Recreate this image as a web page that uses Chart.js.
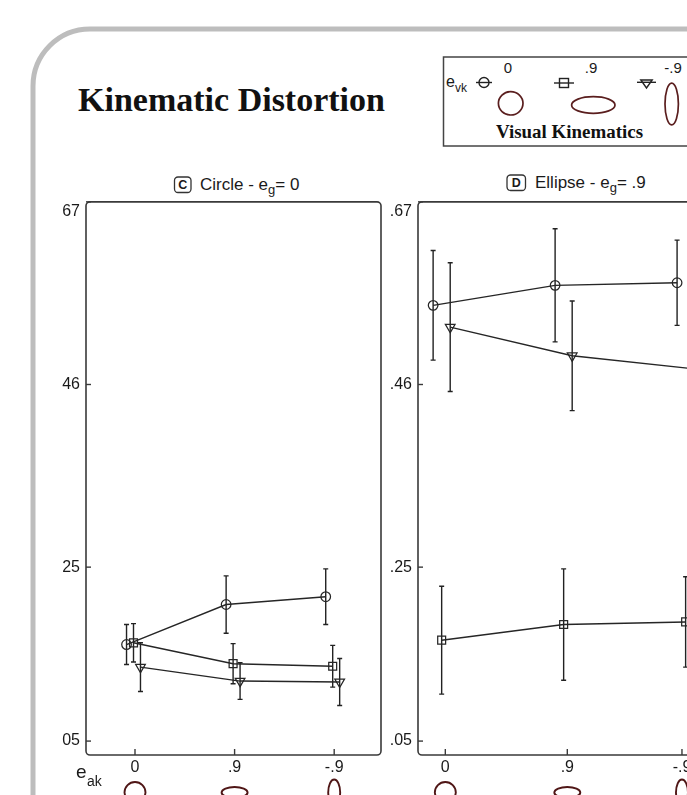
<!DOCTYPE html>
<html>
<head>
<meta charset="utf-8">
<title>Kinematic Distortion</title>
<script src="https://cdn.jsdelivr.net/npm/chart.js@4.4.1/dist/chart.umd.min.js"></script>
<style>
  html, body { margin: 0; padding: 0; background: #fff; }
  #stage { position: relative; width: 687px; height: 795px; overflow: hidden; }
  #deco { position: absolute; left: 0; top: 0; }
  canvas { position: absolute; }
</style>
</head>
<body>
<div id="stage">
  <svg id="deco" width="687" height="795" xmlns="http://www.w3.org/2000/svg">
    <!-- slide frame -->
    <rect x="33" y="29" width="800" height="900" rx="57" ry="57" fill="none" stroke="#bdbdbd" stroke-width="5"/>
    <!-- heading -->
    <text x="78" y="111" font-family="Liberation Serif, serif" font-weight="bold" font-size="33" fill="#111"
          textLength="307" lengthAdjust="spacingAndGlyphs">Kinematic Distortion</text>

    <!-- key for the visual kinematics -->
    <rect x="443.5" y="57" width="400" height="89" fill="none" stroke="#444" stroke-width="1.5"/>
    <text x="446" y="87" font-family="Liberation Sans, Arial, sans-serif" font-size="16" fill="#1a1a1a">e<tspan font-size="12" dy="5">vk</tspan></text>
    <g font-family="Liberation Sans, Arial, sans-serif" font-size="15" fill="#1a1a1a" text-anchor="middle">
      <text x="508" y="73">0</text>
      <text x="591" y="73">.9</text>
      <text x="673" y="73">-.9</text>
    </g>
    <g stroke="#222" stroke-width="1.4" fill="none">
      <line x1="476" y1="82.5" x2="492" y2="82.5"/>
      <circle cx="484" cy="82.5" r="5"/>
      <line x1="554" y1="83" x2="574" y2="83"/>
      <rect x="559.5" y="78.5" width="9" height="9"/>
      <line x1="637" y1="82.3" x2="656" y2="82.3"/>
      <path d="M640.8 80 L652.2 80 L646.5 88 Z"/>
    </g>
    <g stroke="#5a1e1e" stroke-width="1.7" fill="none">
      <ellipse cx="510.7" cy="103.3" rx="12.3" ry="11.7"/>
      <ellipse cx="593.3" cy="105" rx="21.7" ry="8.3"/>
      <ellipse cx="671.7" cy="104" rx="6.7" ry="20.8"/>
    </g>
    <text x="496" y="138" font-family="Liberation Serif, serif" font-weight="bold" font-size="18" fill="#111"
          textLength="147" lengthAdjust="spacingAndGlyphs">Visual Kinematics</text>

    <!-- panel headings -->
    <g font-family="Liberation Sans, Arial, sans-serif" fill="#1a1a1a">
      <rect x="174.5" y="177" width="16.5" height="15.5" rx="3.5" fill="none" stroke="#333" stroke-width="1.3"/>
      <text x="182.8" y="189.3" font-size="12.5" font-weight="bold" text-anchor="middle">C</text>
      <text x="200" y="189.5" font-size="17">Circle - e<tspan font-size="13" dy="4">g</tspan><tspan dy="-4">= 0</tspan></text>

      <rect x="507" y="175" width="18.5" height="15.5" rx="3.5" fill="none" stroke="#333" stroke-width="1.3"/>
      <text x="516.3" y="187.3" font-size="12.5" font-weight="bold" text-anchor="middle">D</text>
      <text x="535" y="187.5" font-size="17">Ellipse - e<tspan font-size="13" dy="4">g</tspan><tspan dy="-4">= .9</tspan></text>
    </g>
  </svg>
  <canvas id="panelC" width="400" height="605" style="left:0px;top:195px;"></canvas>
  <canvas id="panelD" width="356" height="605" style="left:380px;top:195px;"></canvas>
</div>

<script>
// Arm-kinematics conditions along the x axis (e_ak) and tick labels
const categories = ['0', '.9', '-.9'];
const yTickValues = [0.05, 0.25, 0.46, 0.67];
const yTickLabelsC = ['05', '25', '46', '67'];
const yTickLabelsD = ['.05', '.25', '.46', '.67'];

// Panel C, circle target (e_g = 0): mean distortion and error half-widths per visual kinematics e_vk
const circleC_vk0 = [0.161, 0.207, 0.216];
const circleC_vk0Err = [0.023, 0.033, 0.032];
const circleC_vk9 = [0.163, 0.139, 0.136];
const circleC_vk9Err = [0.022, 0.023, 0.024];
const circleC_vkm9 = [0.135, 0.119, 0.118];
const circleC_vkm9Err = [0.028, 0.021, 0.027];

// Panel D, ellipse target (e_g = .9)
const ellipseD_vk0 = [0.551, 0.574, 0.577];
const ellipseD_vk0Err = [0.063, 0.065, 0.049];
const ellipseD_vk9 = [0.166, 0.184, 0.187];
const ellipseD_vk9Err = [0.062, 0.064, 0.052];
const ellipseD_vkm9 = [0.526, 0.493, 0.478];
const ellipseD_vkm9Err = [0.074, 0.063, 0.060];

const INK = '#262626';
const TEXT = '#1a1a1a';
const ICON = '#4f1616';

// shape of the arm-kinematics icon drawn under each category (rx, ry)
const iconShapes = [[10.5, 10.5], [13, 5.5], [6, 13]];

function points(values, offset) {
  return values.map((v, i) => ({ x: i + 1 + offset, y: v }));
}

function series(values, errors, offset, style) {
  return {
    data: points(values, offset),
    errors: errors,
    showLine: true,
    tension: 0,
    borderColor: INK,
    borderWidth: 1.4,
    pointStyle: style.pointStyle,
    rotation: style.rotation || 0,
    pointRadius: style.radius,
    pointBorderWidth: 1.25,
    pointBorderColor: INK,
    pointBackgroundColor: 'rgba(0,0,0,0)',
    pointHoverRadius: style.radius
  };
}

const decorPlugin = {
  id: 'panelDecor',
  beforeDatasetsDraw(chart) {
    const ctx = chart.ctx;
    const a = chart.chartArea;
    const xs = chart.scales.x, ys = chart.scales.y;
    ctx.save();
    // rounded plot frame
    ctx.strokeStyle = '#3a3a3a';
    ctx.lineWidth = 1.6;
    ctx.beginPath();
    ctx.roundRect(a.left, a.top, a.right - a.left, a.bottom - a.top, 4);
    ctx.stroke();
    // inward tick marks
    ctx.lineWidth = 1.4;
    ys.ticks.forEach(t => {
      const y = ys.getPixelForValue(t.value);
      ctx.beginPath(); ctx.moveTo(a.left, y); ctx.lineTo(a.left + 5, y); ctx.stroke();
    });
    xs.ticks.forEach(t => {
      const x = xs.getPixelForValue(t.value);
      ctx.beginPath(); ctx.moveTo(x, a.bottom); ctx.lineTo(x, a.bottom - 6); ctx.stroke();
    });
    // error bars
    ctx.strokeStyle = '#222';
    ctx.lineWidth = 1.4;
    chart.data.datasets.forEach((ds, di) => {
      const meta = chart.getDatasetMeta(di);
      meta.data.forEach((pt, i) => {
        const d = ds.data[i];
        const e = ds.errors[i];
        const x = pt.x;
        const yTop = ys.getPixelForValue(d.y + e);
        const yBot = ys.getPixelForValue(d.y - e);
        ctx.beginPath();
        ctx.moveTo(x, yTop); ctx.lineTo(x, yBot);
        ctx.moveTo(x - 2.5, yTop); ctx.lineTo(x + 2.5, yTop);
        ctx.moveTo(x - 2.5, yBot); ctx.lineTo(x + 2.5, yBot);
        ctx.stroke();
      });
    });
    ctx.restore();
  },
  afterDraw(chart) {
    const ctx = chart.ctx;
    const a = chart.chartArea;
    const xs = chart.scales.x;
    ctx.save();
    ctx.strokeStyle = ICON;
    ctx.lineWidth = 1.9;
    xs.ticks.forEach((t, i) => {
      const x = xs.getPixelForValue(t.value);
      const [rx, ry] = iconShapes[i];
      ctx.beginPath();
      ctx.ellipse(x, a.bottom + 37.5, rx, ry, 0, 0, Math.PI * 2);
      ctx.stroke();
    });
    const opts = chart.options.plugins.panelDecor || {};
    if (opts.axisName) {
      ctx.fillStyle = TEXT;
      ctx.textBaseline = 'alphabetic';
      ctx.font = '19px "Liberation Sans", Arial, sans-serif';
      ctx.fillText('e', 76, a.bottom + 23);
      ctx.font = '14px "Liberation Sans", Arial, sans-serif';
      ctx.fillText('ak', 87, a.bottom + 31);
    }
    ctx.restore();
  }
};

function makePanel(id, cfg) {
  const lastTick = yTickValues.length - 1;
  return new Chart(document.getElementById(id), {
    type: 'scatter',
    data: { datasets: cfg.datasets },
    plugins: [decorPlugin],
    options: {
      responsive: false,
      animation: false,
      devicePixelRatio: 1,
      events: [],
      layout: { padding: { left: 0, top: 6.5, right: cfg.padRight, bottom: 0 } },
      plugins: {
        legend: { display: false },
        tooltip: { enabled: false },
        panelDecor: { axisName: cfg.axisName }
      },
      scales: {
        x: {
          type: 'linear',
          min: cfg.xMin, max: cfg.xMax,
          grid: { display: false, drawTicks: false },
          border: { display: false },
          afterBuildTicks: s => { s.ticks = cfg.xTicks.map(v => ({ value: v })); },
          afterFit: s => {
            s.height = 45;
            s.paddingLeft = 0; s.paddingRight = 0;
          },
          ticks: {
            padding: 3,
            color: TEXT,
            font: { family: '"Liberation Sans", Arial, sans-serif', size: 16 },
            callback: (v, i) => categories[i]
          }
        },
        y: {
          type: 'linear',
          min: 0.034, max: 0.67,
          grid: { display: false, drawTicks: false },
          border: { display: false },
          afterBuildTicks: s => { s.ticks = yTickValues.map(v => ({ value: v })); },
          afterFit: s => {
            s.width = cfg.yWidth;
            s.paddingTop = 0; s.paddingBottom = 0;
          },
          ticks: {
            padding: 6,
            color: TEXT,
            font: { family: '"Liberation Sans", Arial, sans-serif', size: 16 },
            callback: (v, i) => i === lastTick ? ['', cfg.yLabels[i]] : cfg.yLabels[i]
          }
        }
      }
    }
  });
}

const circleMark = { pointStyle: 'circle', radius: 4.8 };
const squareMark = { pointStyle: 'rect', radius: 5.6 };
const triangleMark = { pointStyle: 'triangle', radius: 5.6, rotation: 180 };

makePanel('panelC', {
  xMin: 0.508, xMax: 3.47, xTicks: [1, 2, 3],
  yWidth: 86, padRight: 19, yLabels: yTickLabelsC, axisName: true,
  datasets: [
    series(circleC_vk0, circleC_vk0Err, -0.085, circleMark),
    series(circleC_vk9, circleC_vk9Err, -0.015, squareMark),
    series(circleC_vkm9, circleC_vkm9Err, 0.055, triangleMark)
  ]
});

makePanel('panelD', {
  xMin: 0.776, xMax: 3.219, xTicks: [1, 2, 2.94],
  yWidth: 38, padRight: 20, yLabels: yTickLabelsD, axisName: false,
  datasets: [
    series(ellipseD_vk0, ellipseD_vk0Err, -0.10, circleMark),
    series(ellipseD_vk9, ellipseD_vk9Err, -0.03, squareMark),
    series(ellipseD_vkm9, ellipseD_vkm9Err, 0.04, triangleMark)
  ]
});
</script>
</body>
</html>
